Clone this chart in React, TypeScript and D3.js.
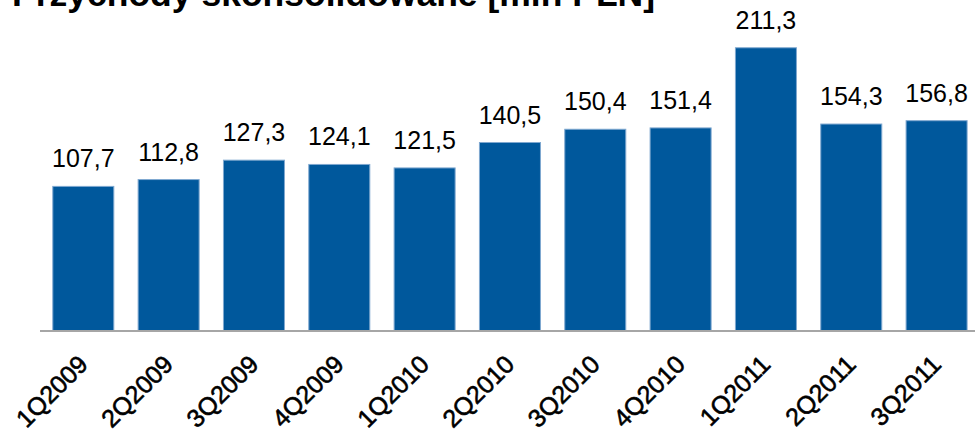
import React from "react";
import * as d3 from "d3";

const categories = ["1Q2009","2Q2009","3Q2009","4Q2009","1Q2010","2Q2010","3Q2010","4Q2010","1Q2011","2Q2011","3Q2011"];
const values = [107.7,112.8,127.3,124.1,121.5,140.5,150.4,151.4,211.3,154.3,156.8];
const title = "Przychody skonsolidowane [mln PLN]";

const W = 975, H = 437;
const fmt = (v: number) => v.toFixed(1).replace(".", ",");

export default function App() {
  const x = d3.scaleBand<string>().domain(categories).range([40, 979.9]).paddingInner(0.285).paddingOuter(0.15);
  const y = d3.scaleLinear().domain([0, 247]).range([330.5, 0]);
  const font = "'Liberation Sans', Arial, sans-serif";
  return (
    <svg width={W} height={H} style={{ position: "absolute", left: 0, top: 0, background: "#fff" }} fontFamily={font}>
      <text x={12} y={6} fontSize={35.5} fontWeight="bold" fill="#000">{title}</text>
      {categories.map((c, i) => (
        <g key={c}>
          <rect x={x(c)} y={y(values[i])} width={x.bandwidth()} height={y(0) - y(values[i])}
            fill="#00589C" stroke="#7FA8D0" strokeWidth={1} />
          <text x={(x(c) as number) + x.bandwidth() / 2} y={y(values[i]) - 19} fontSize={25} textAnchor="middle" fill="#000">{fmt(values[i])}</text>
          <text transform={`translate(${(x(c) as number) + x.bandwidth() / 2 + 6},366) rotate(-45)`} fontSize={25} textAnchor="end" fill="#000" stroke="#000" strokeWidth={0.6}>{c}</text>
        </g>
      ))}
      <line x1={40} x2={975} y1={y(0) + 0.5} y2={y(0) + 0.5} stroke="#A6A6A6" strokeWidth={2} />
    </svg>
  );
}
